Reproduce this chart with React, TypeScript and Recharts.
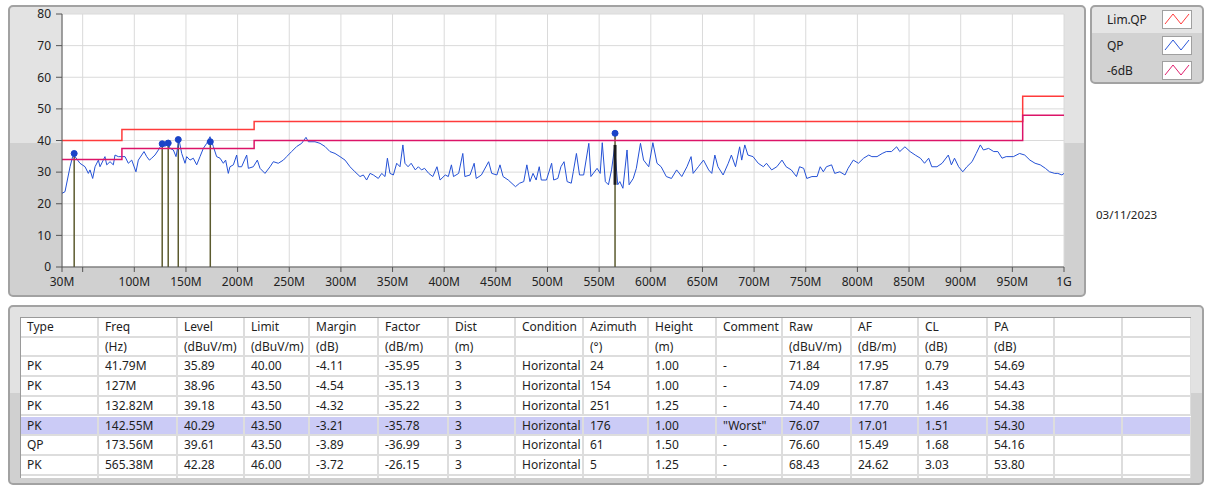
import { ComposedChart, Line, XAxis, YAxis, CartesianGrid, ReferenceLine } from "recharts";

// limit lines (step after each edge)
const limitEdges = [30, 88, 216, 960, 1000];
const limitQP = [40, 43.5, 46, 54, 54];
const limit6dB = [34, 37.5, 40, 48, 48];

const yTicks = [0, 10, 20, 30, 40, 50, 60, 70, 80];
const xTicks = [30, 50, 100, 150, 200, 250, 300, 350, 400, 450, 500, 550, 600, 650, 700, 750, 800, 850, 900, 950, 1000];

// QP trace: [MHz, dBuV/m]
const qpTrace: [number, number][] = [
    [30, 23.3], [32.9, 23.8], [37.8, 31.7], [40.3, 34.9], [41.6, 35.9], [42.6, 34.9], [47.4, 32.8], [52.3, 31.7],
    [55.5, 29.6], [57.1, 30.7], [59.7, 28.0], [62.0, 31.7], [65.2, 33.8], [66.8, 31.7], [71.6, 34.9], [73.3, 32.3],
    [76.5, 33.3], [79.7, 32.3], [81.3, 35.4], [84.5, 34.9], [87.8, 34.9], [91.0, 34.9], [94.2, 32.8], [97.5, 33.8],
    [101.6, 30.1], [103.9, 33.8], [109.4, 36.5], [112.0, 34.9], [114.6, 33.8], [116.8, 34.4], [120.0, 35.4], [123.3, 37.0],
    [127.1, 39.1], [129.7, 38.1], [132.3, 39.6], [134.6, 37.5], [137.8, 37.0], [140.4, 34.9], [143.3, 40.2], [145.9, 35.9],
    [149.1, 32.8], [150.7, 34.9], [153.9, 33.8], [157.1, 34.4], [160.4, 32.3], [163.6, 34.9], [166.8, 37.5], [170.1, 39.1],
    [173.3, 41.2], [176.5, 38.1], [179.7, 34.9], [183.0, 34.4], [186.2, 32.8], [188.4, 33.8], [191.0, 29.6], [192.6, 31.7],
    [195.9, 32.3], [199.1, 35.4], [200.7, 31.7], [203.9, 31.7], [208.8, 35.4], [210.4, 31.2], [215.2, 31.7], [219.1, 33.8],
    [221.7, 31.2], [226.5, 29.6], [231.4, 31.7], [234.6, 33.3], [239.4, 32.8], [244.3, 33.8], [247.5, 34.9], [252.3, 36.5],
    [257.2, 38.1], [262.0, 39.1], [266.2, 41.0], [268.5, 39.6], [274.9, 39.6], [279.8, 39.1], [284.6, 38.1], [289.4, 36.5],
    [294.3, 35.9], [299.1, 34.9], [304.0, 33.8], [308.8, 31.7], [313.6, 30.1], [318.5, 28.6], [321.7, 29.1], [324.9, 27.5],
    [328.2, 29.6], [331.4, 29.1], [336.2, 28.0], [339.5, 29.6], [342.7, 28.6], [345.0, 34.4], [347.5, 29.6], [350.8, 29.1],
    [354.0, 32.8], [357.2, 31.7], [360, 38.6], [362, 32.8], [365, 31.7], [368, 32.8], [372, 30.7], [375, 31.7],
    [378, 30.7], [381, 31.2], [385, 29.6], [389, 28.6], [393, 31.7], [396, 27.5], [401, 29.1], [404, 28.6],
    [407, 32.3], [409, 28.6], [414, 29.6], [418, 35.9], [420, 28.6], [425, 29.1], [429, 32.8], [431, 28.0],
    [436, 29.1], [443, 33.3], [446, 29.6], [451, 29.1], [454, 32.3], [457, 28.6], [462, 27.5], [469, 25.4],
    [473, 26.5], [477, 27.0], [480, 32.3], [483, 27.0], [486, 29.6], [489, 27.5], [492, 31.7], [494, 27.5],
    [499, 27.5], [504, 32.8], [506, 27.5], [510, 28.0], [513, 31.7], [516, 33.3], [519, 27.0], [523, 26.5],
    [525, 30.2], [528, 35.9], [531, 29.1], [535, 29.1], [540, 39.1], [542, 28.6], [548, 31.2], [551, 29.6],
    [553, 39.3], [556, 27.0], [559, 26.0], [562, 30.7], [565, 38.0], [568, 26.0], [570, 27.0], [573, 24.9],
    [577, 37.0], [579, 26.0], [583, 28.0], [586, 31.2], [590, 39.1], [593, 33.8], [598, 31.7], [602, 39.3],
    [606, 32.8], [610, 31.7], [615, 28.6], [620, 28.0], [625, 30.7], [630, 28.6], [635, 31.7], [639, 34.9],
    [641, 29.6], [646, 31.7], [651, 33.8], [656, 30.7], [659, 29.6], [662, 35.4], [665, 31.7], [670, 29.1],
    [675, 32.8], [678, 35.4], [682, 31.7], [686, 38.0], [688, 33.8], [691, 38.6], [694, 35.4], [699, 34.9],
    [704, 32.8], [709, 31.7], [712, 32.8], [717, 30.7], [722, 31.7], [727, 33.8], [731, 31.7], [736, 30.7],
    [741, 28.6], [744, 31.7], [748, 31.2], [751, 28.0], [756, 28.6], [761, 28.6], [764, 31.7], [767, 30.1],
    [770, 31.7], [775, 32.3], [778, 29.6], [783, 30.1], [788, 29.1], [791, 31.2], [796, 33.8], [801, 32.8],
    [806, 34.4], [811, 35.4], [814, 34.9], [819, 34.9], [824, 35.9], [828, 36.5], [833, 36.5], [838, 38.0],
    [841, 36.5], [846, 38.0], [851, 36.5], [856, 35.4], [861, 34.4], [865, 32.8], [869, 34.4], [872, 31.7],
    [877, 31.7], [882, 32.8], [888, 35.4], [891, 32.3], [894, 34.4], [898, 31.7], [902, 30.1], [906, 31.7],
    [911, 33.3], [915, 35.9], [919, 38.6], [922, 37.0], [927, 37.5], [932, 36.5], [936, 36.5], [940, 34.4],
    [944, 34.9], [951, 34.9], [957, 35.9], [962, 35.4], [967, 33.8], [972, 32.8], [977, 32.3], [982, 31.2],
    [986, 30.1], [991, 29.6], [994, 29.6], [998, 29.1], [1000, 29.6],
];

// peak table
const peakType = ["PK", "PK", "PK", "PK", "QP", "PK"];
const peakFreq = [41.79, 127, 132.82, 142.55, 173.56, 565.38];
const peakLevel = [35.89, 38.96, 39.18, 40.29, 39.61, 42.28];
const peakLimit = [40.0, 43.5, 43.5, 43.5, 43.5, 46.0];
const peakMargin = [-4.11, -4.54, -4.32, -3.21, -3.89, -3.72];
const peakFactor = [-35.95, -35.13, -35.22, -35.78, -36.99, -26.15];
const peakDist = [3, 3, 3, 3, 3, 3];
const peakCondition = ["Horizontal", "Horizontal", "Horizontal", "Horizontal", "Horizontal", "Horizontal"];
const peakAzimuth = [24, 154, 251, 176, 61, 5];
const peakHeight = [1.0, 1.0, 1.25, 1.0, 1.5, 1.25];
const peakComment = ["-", "-", "-", "\"Worst\"", "-", "-"];
const peakRaw = [71.84, 74.09, 74.4, 76.07, 76.6, 68.43];
const peakAF = [17.95, 17.87, 17.7, 17.01, 15.49, 24.62];
const peakCL = [0.79, 1.43, 1.46, 1.51, 1.68, 3.03];
const peakPA = [54.69, 54.43, 54.38, 54.3, 54.16, 53.8];
const worstRow = 3;
// dark overlap band on the 565M stem, as seen in the plot
const stemBand = [26, 38.6];

const headers = ["Type", "Freq", "Level", "Limit", "Margin", "Factor", "Dist", "Condition", "Azimuth", "Height", "Comment", "Raw", "AF", "CL", "PA", "", ""];
const units = ["", "(Hz)", "(dBuV/m)", "(dBuV/m)", "(dB)", "(dB/m)", "(m)", "", "(°)", "(m)", "", "(dBuV/m)", "(dB/m)", "(dB)", "(dB)", "", ""];
const colEdges = [20, 98, 177, 244, 309, 378, 448, 515, 583, 648, 716, 782, 851, 918, 987, 1054, 1122, 1191];

const legendNames = ["Lim.QP", "QP", "-6dB"];
const legendColors = ["#ff3b3b", "#2a56d8", "#e0206e"];

const FONT = "'Noto Sans', 'DejaVu Sans', sans-serif";
const ROW_H = 19.7;

function fmtFreq(v: number) {
    if (v === 50) return "";
    if (v === 1000) return "1G";
    return `${v}M`;
}

function Swatch({ color }: { color: string }) {
    return (
        <svg width={30} height={19} style={{ display: "block" }}>
            <rect x={0.5} y={0.5} width={29} height={18} fill="#fff" stroke="#a0a0a0" />
            <polyline points="3,14 11,4 19,14 27,4" fill="none" stroke={color} strokeWidth={1} />
        </svg>
    );
}

export default function App() {
    const limData = limitEdges.map((f, i) => ({ f, v: limitQP[i] }));
    const sixData = limitEdges.map((f, i) => ({ f, v: limit6dB[i] }));
    const traceData = qpTrace.map(([f, v]) => ({ f, v }));
    const peakData = peakFreq.map((f, i) => ({ f, v: peakLevel[i] }));

    const rows: string[][] = [headers, units];
    peakType.forEach((t, i) => {
        rows.push([
            t,
            `${peakFreq[i]}M`,
            peakLevel[i].toFixed(2),
            peakLimit[i].toFixed(2),
            peakMargin[i].toFixed(2),
            peakFactor[i].toFixed(2),
            String(peakDist[i]),
            peakCondition[i],
            String(peakAzimuth[i]),
            peakHeight[i].toFixed(2),
            peakComment[i],
            peakRaw[i].toFixed(2),
            peakAF[i].toFixed(2),
            peakCL[i].toFixed(2),
            peakPA[i].toFixed(2),
            "",
            "",
        ]);
    });
    rows.push(headers.map(() => ""));

    return (
        <div style={{ position: "absolute", left: 0, top: 0, width: 1208, height: 486, background: "#fff", fontFamily: FONT, color: "#1e1e1e", overflow: "hidden" }}>
            {/* chart panel */}
            <div
                style={{
                    position: "absolute", left: 8, top: 5, width: 1078, height: 292, boxSizing: "border-box",
                    border: "2px solid #a2a2a2", borderRadius: 5,
                    background: "linear-gradient(to bottom, #e3e3e3 0px, #e3e3e3 136px, #d0d0d0 136px, #d0d0d0 100%)",
                }}
            />
            <div style={{ position: "absolute", left: 0, top: 0 }}>
                <ComposedChart width={1086} height={297} margin={{ top: 14, right: 22, bottom: 8, left: 22 }}>
                    <CartesianGrid stroke="#dadada" fill="#ffffff" fillOpacity={1} />
                    <XAxis
                        type="number"
                        dataKey="f"
                        domain={[30, 1000]}
                        ticks={xTicks}
                        interval={0}
                        tickFormatter={fmtFreq}
                        height={22}
                        tickSize={5}
                        tickMargin={5}
                        stroke="#555"
                        tick={{ fill: "#222", fontSize: 12, fontFamily: FONT }}
                        allowDataOverflow
                    />
                    <YAxis
                        type="number"
                        domain={[0, 80]}
                        ticks={yTicks}
                        interval={0}
                        width={40}
                        tickSize={6}
                        tickMargin={5}
                        stroke="#555"
                        tick={{ fill: "#222", fontSize: 12, fontFamily: FONT }}
                    />
                    {peakFreq.map((f, i) => (
                        <ReferenceLine
                            key={i}
                            segment={[{ x: f, y: 0 }, { x: f, y: peakLevel[i] }]}
                            stroke="#5b5a2e"
                            strokeWidth={1.5}
                        />
                    ))}
                    <Line data={traceData} dataKey="v" type="linear" stroke="#2451d6" strokeWidth={1} dot={false} isAnimationActive={false} />
                    <ReferenceLine
                        segment={[{ x: peakFreq[5], y: stemBand[0] }, { x: peakFreq[5], y: stemBand[1] }]}
                        stroke="#1c1c1c"
                        strokeWidth={3}
                    />
                    <Line data={limData} dataKey="v" type="stepAfter" stroke="#ff3b3b" strokeWidth={1.5} dot={false} isAnimationActive={false} />
                    <Line data={sixData} dataKey="v" type="stepAfter" stroke="#dc1468" strokeWidth={1.5} dot={false} isAnimationActive={false} />
                    <Line
                        data={peakData}
                        dataKey="v"
                        stroke="none"
                        dot={{ r: 3, fill: "#1a44c8", stroke: "#1a44c8", strokeWidth: 1 }}
                        isAnimationActive={false}
                    />
                </ComposedChart>
            </div>

            {/* legend */}
            <div
                style={{
                    position: "absolute", left: 1090, top: 5, width: 114, height: 79, boxSizing: "border-box",
                    border: "2px solid #a2a2a2", borderRadius: 5,
                    background: "linear-gradient(to bottom, #e5e5e5 0px, #e5e5e5 26px, #d2d2d2 26px, #d2d2d2 100%)",
                }}
            >
                {legendNames.map((n, i) => (
                    <div key={n} style={{ position: "absolute", left: 0, top: 3 + i * 25.5, width: 110, height: 19 }}>
                        <span style={{ position: "absolute", left: 15, top: 1, fontSize: 12, lineHeight: "17px", color: "#222" }}>{n}</span>
                        <div style={{ position: "absolute", left: 70, top: 0 }}>
                            <Swatch color={legendColors[i]} />
                        </div>
                    </div>
                ))}
            </div>

            <div style={{ position: "absolute", left: 1096, top: 207, fontSize: 11.5, color: "#222" }}>03/11/2023</div>

            {/* table panel */}
            <div
                style={{
                    position: "absolute", left: 8, top: 305, width: 1196, height: 180, boxSizing: "border-box",
                    border: "2px solid #a2a2a2", borderRadius: 5,
                    background: "linear-gradient(to bottom, #e2e2e2 0px, #e2e2e2 86px, #d0d0d0 86px, #d0d0d0 100%)",
                }}
            />
            <div
                style={{
                    position: "absolute", left: 20, top: 317, width: colEdges[colEdges.length - 1] - 20, height: 161,
                    background: "#fff", boxSizing: "border-box", borderLeft: "1px solid #9a9a9a", borderTop: "1px solid #9a9a9a",
                    overflow: "hidden",
                }}
            >
                {rows.map((r, ri) => (
                    <div
                        key={ri}
                        style={{
                            position: "absolute", left: 0, top: ri * ROW_H, height: ROW_H, width: "100%",
                            background: ri - 2 === worstRow ? "#cbcbf6" : "#fff",
                        }}
                    >
                        {r.map((c, ci) => (
                            <div
                                key={ci}
                                style={{
                                    position: "absolute", left: colEdges[ci] - 20, top: 0,
                                    width: colEdges[ci + 1] - colEdges[ci], height: ROW_H, boxSizing: "border-box",
                                    borderRight: "2px solid #dddddd", borderBottom: "2px solid #dddddd",
                                    paddingLeft: 6, fontSize: 12, lineHeight: `${ROW_H - 2}px`, whiteSpace: "nowrap", color: "#1e1e1e",
                                }}
                            >
                                {c}
                            </div>
                        ))}
                    </div>
                ))}
            </div>
        </div>
    );
}
